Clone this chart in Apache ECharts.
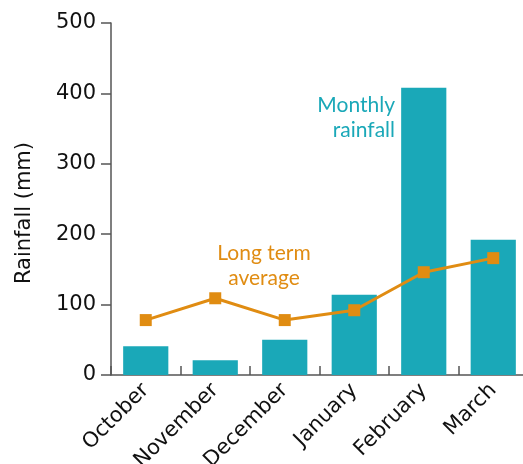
<!DOCTYPE html>
<html>
<head>
<meta charset="utf-8">
<script src="https://cdn.jsdelivr.net/npm/echarts@6/dist/echarts.min.js"></script>
<style>
  html, body { margin: 0; padding: 0; background: #fff; }
  #chart { width: 523px; height: 464px; }
</style>
</head>
<body>
<div id="chart"></div>
<script>
// Monthly rainfall vs long term average
const months = ['October', 'November', 'December', 'January', 'February', 'March'];
const monthlyRainfall = [41, 21, 50, 114, 408, 192];
const longTermAverage = [78, 109, 78, 92, 146, 166];
const yTicks = [0, 100, 200, 300, 400, 500];

const TEAL = '#1aa8b8';
const ORANGE = '#e08c12';
const AXIS = '#555555';
const LABEL_FONT = 'DejaVu Sans';
const NOTE_FONT = 'Lato';

const chart = echarts.init(document.getElementById('chart'), null, { renderer: 'canvas' });

chart.setOption({
  animation: false,
  grid: {
    left: 111, top: 23, width: 417, height: 352,
    containLabel: false,
    outerBoundsMode: 'none'
  },
  xAxis: {
    type: 'category',
    data: months,
    boundaryGap: true,
    axisLine: { lineStyle: { color: AXIS, width: 1.5 } },
    axisTick: { show: true, inside: true, length: 9, lineStyle: { color: AXIS, width: 1.5 } },
    axisLabel: { rotate: 45, color: '#111', fontFamily: LABEL_FONT, fontSize: 21, margin: 12 }
  },
  yAxis: {
    type: 'value',
    min: yTicks[0],
    max: yTicks[yTicks.length - 1],
    interval: 100,
    name: 'Rainfall (mm)',
    nameLocation: 'middle',
    nameGap: 76,
    // right padding nudges the rotated title down along the axis
    nameTextStyle: { color: '#111', fontFamily: LABEL_FONT, fontSize: 21, padding: [0, 28, 0, 0] },
    splitLine: { show: false },
    axisLine: { show: true, lineStyle: { color: AXIS, width: 1.5 } },
    axisTick: { show: true, length: 10, lineStyle: { color: AXIS, width: 1.5 } },
    axisLabel: { color: '#111', fontFamily: LABEL_FONT, fontSize: 21, margin: 15 }
  },
  series: [
    {
      name: 'Monthly rainfall',
      type: 'bar',
      data: monthlyRainfall,
      barWidth: '65%',
      itemStyle: { color: TEAL }
    },
    {
      name: 'Long term average',
      type: 'line',
      data: longTermAverage,
      symbol: 'rect',
      symbolSize: 12,
      lineStyle: { color: ORANGE, width: 3 },
      itemStyle: { color: ORANGE }
    }
  ],
  graphic: [
    {
      type: 'text',
      x: 395,
      y: 118,
      style: {
        text: 'Monthly\nrainfall',
        align: 'right',
        verticalAlign: 'middle',
        fill: TEAL,
        font: '21px ' + NOTE_FONT,
        lineHeight: 25
      }
    },
    {
      type: 'text',
      x: 264,
      y: 266,
      style: {
        text: 'Long term\naverage',
        align: 'center',
        verticalAlign: 'middle',
        fill: ORANGE,
        font: '21px ' + NOTE_FONT,
        lineHeight: 25
      }
    }
  ]
});
</script>
</body>
</html>
